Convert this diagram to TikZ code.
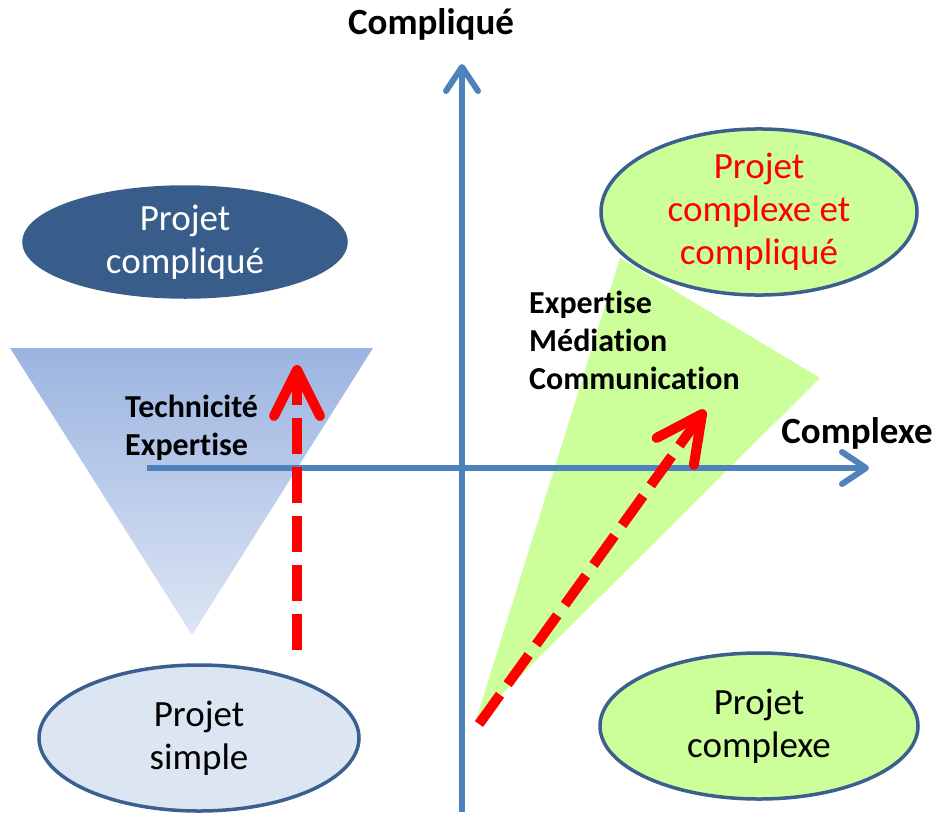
\documentclass[tikz,border=0pt]{standalone}
\usepackage{fontspec}
\setmainfont{Carlito}[Ligatures=NoCommon]
\usetikzlibrary{shapes.geometric,arrows.meta}
\definecolor{axisblue}{HTML}{4F81BD}
\definecolor{darkblue}{HTML}{385D8A}
\definecolor{edgeblue}{HTML}{3B5F8F}
\definecolor{lightblue}{HTML}{DCE6F2}
\definecolor{lightgreen}{HTML}{CCFF99}
\definecolor{tritop}{HTML}{9BB4E0}
\definecolor{tribot}{HTML}{DDE5F4}
\begin{document}
\begin{tikzpicture}[x=1pt,y=-1pt,
  axis/.style={draw=axisblue,line width=6pt,-{Straight Barb[length=24pt,width=32pt,line width=6pt,round]}},
  redarrow/.style={draw=red,line width=10pt,dash pattern=on 36pt off 13pt,-{Straight Barb[length=46pt,width=46pt,line width=10pt,round]}},
  blob/.style={ellipse,inner sep=0pt,align=center,font=\fontsize{37}{43}\selectfont,line width=3.5pt},
  lbl/.style={font=\fontsize{32}{38}\bfseries\selectfont,align=left,inner sep=0pt,anchor=base west},
  axlbl/.style={font=\fontsize{37}{40}\bfseries\selectfont,inner sep=0pt,anchor=base}]
\useasboundingbox (0,0) rectangle (936,814);
% triangles
\shade[top color=tritop,bottom color=tribot] (10,348) -- (373,348) -- (192,635) -- cycle;
\fill[lightgreen] (620,258) -- (820,378) -- (476,720) -- cycle;
% axes
\coordinate (vb) at (462,812);
\coordinate (vt) at (462,64);
\coordinate (hl) at (147,468);
\coordinate (hr) at (869,468);
\draw[axis] (vb) -- (vt);
\draw[axis] (hl) -- (hr);
\node[axlbl] (lcompl) at (431,34) {Compliqué};
\node[axlbl] (lcomx) at (857,443) {Complexe};
% ellipses
\node[blob,fill=darkblue,draw=darkblue,text=white,minimum width=322pt,minimum height=110pt] (pc) at (185,242) {Projet\\compliqué};
\node[blob,fill=lightgreen,draw=edgeblue,text=red,minimum width=316pt,minimum height=152pt] (pcc) at (759,212) {Projet\\complexe et\\compliqué};
\node[blob,fill=lightblue,draw=edgeblue,minimum width=320pt,minimum height=146pt] (ps) at (199,738) {Projet\\simple};
\node[blob,fill=lightgreen,draw=edgeblue,minimum width=318pt,minimum height=146pt] (px) at (759,726) {Projet\\complexe};
% labels
\node[lbl] (tech) at (125,455) {Technicité\\Expertise};
\node[lbl] (emc) at (529,389) {Expertise\\Médiation\\Communication};
% red arrows
\coordinate (ra1) at (297,650);
\coordinate (rb1) at (297,365);
\coordinate (ra2) at (479,724);
\coordinate (rb2) at (705,410);
\draw[redarrow] (ra1) -- (rb1);
\draw[redarrow] (ra2) -- (rb2);
\end{tikzpicture}
\end{document}
